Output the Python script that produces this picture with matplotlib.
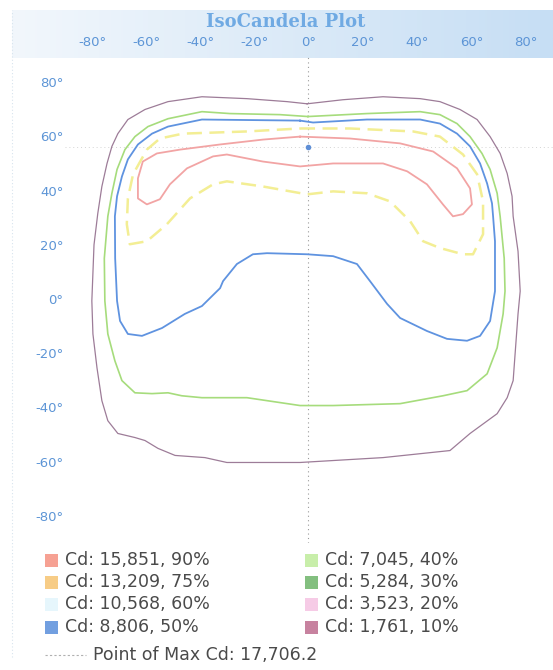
import matplotlib

matplotlib.use("Agg")

import matplotlib.pyplot as plt
import numpy as np
from matplotlib.patches import Rectangle

# Contour outlines in degrees (horizontal angle, vertical angle)
CD_10_X = [-0.7, -8.1, -22.9, -39.5, -52.0, -60.5, -66.8, -70.5, -72.7, -74.5, -76.4, -77.9,
           -79.3, -80.1, -79.7, -78.2, -76.4, -74.2, -70.5, -64.2, -60.5, -55.7, -49.4, -38.4,
           -30.3, -3.3, 27.3, 52.0, 59.4, 69.4, 73.1, 75.3, 77.1, 77.9, 77.1, 75.3, 74.9,
           73.1, 70.5, 66.8, 62.0, 55.7, 48.3, 41.0, 27.3, 12.5, -0.7]
CD_10_Y = [72.0, 72.8, 73.9, 74.6, 72.8, 69.9, 66.2, 61.0, 56.3, 50.0, 41.5, 31.6,
           20.0, -0.7, -12.9, -25.4, -37.5, -44.9, -49.6, -51.1, -52.2, -55.1, -57.7, -58.5,
           -60.3, -60.3, -58.5, -55.9, -49.6, -42.3, -36.4, -30.1, -5.5, 2.9, 17.6, 30.5, 37.9,
           46.3, 53.7, 59.9, 66.2, 69.9, 72.8, 73.9, 74.6, 73.5, 72.0]

CD_40_X = [-0.4, -10.7, -29.2, -39.5, -52.0, -59.4, -64.2, -67.9, -70.8, -72.7, -74.2, -75.5,
           -75.3, -74.2, -71.6, -69.0, -64.2, -57.9, -52.0, -46.9, -39.5, -22.9, -3.3, 8.9,
           33.6, 49.4, 58.3, 65.7, 69.4, 71.6, 72.3, 72.0, 70.5, 69.4, 66.8, 63.8, 59.4,
           54.6, 48.3, 41.0, 21.4, -0.4]
CD_40_Y = [67.3, 68.0, 68.4, 69.1, 66.5, 63.6, 59.9, 55.1, 47.8, 39.0, 30.5, 15.0,
           -0.7, -12.9, -22.8, -30.1, -34.6, -34.9, -34.6, -35.7, -36.4, -36.4, -39.3, -39.3,
           -38.6, -35.7, -33.8, -27.6, -18.0, -5.5, 2.9, 15.0, 30.5, 39.0, 47.8, 53.7, 59.9,
           64.7, 68.0, 69.1, 68.4, 67.3]

CD_50_X = [-3.3, 1.5, 21.4, 41.0, 48.3, 54.6, 59.4, 63.1, 65.7, 67.5, 67.9, 68.6, 68.6,
           66.8, 63.1, 58.3, 50.9, 43.5, 33.6, 28.8, 22.5, 17.7, 8.9, -0.7, -15.5, -20.7,
           -26.6, -31.7, -32.8, -39.5, -45.8, -54.2, -61.6, -66.8, -69.7, -70.8, -71.5,
           -71.6, -70.8, -69.0, -66.8, -63.1, -57.9, -52.0, -39.5, -3.3]
CD_50_Y = [65.8, 65.1, 66.2, 66.2, 64.7, 61.0, 56.3, 50.0, 42.6, 35.3, 30.5, 21.3, 2.9,
           -8.1, -13.6, -15.4, -14.7, -11.8, -7.0, -1.8, 6.6, 12.9, 15.8, 16.5, 16.9, 16.5,
           12.9, 6.6, 4.0, -2.6, -5.5, -10.7, -13.6, -12.9, -8.1, -0.7, 15.0,
           30.5, 37.9, 45.2, 51.5, 57.0, 61.0, 63.6, 66.2, 65.8]

CD_75_X = [-3.3, 15.1, 38.4, 48.3, 56.8, 62.0, 64.2, 64.2, 60.5, 56.8, 48.3, 42.1, 37.3,
           29.9, 21.4, 8.9, -0.7, -17.0, -30.3, -35.4, -43.9, -52.4, -59.8, -66.1, -67.2,
           -66.8, -64.9, -59.8, -55.0, -46.5, -22.9, -3.3]
CD_75_Y = [62.9, 62.9, 61.8, 59.9, 53.3, 46.0, 36.0, 23.9, 16.5, 16.5, 18.8, 21.3, 28.7,
           36.0, 39.0, 39.7, 38.6, 41.5, 43.4, 42.3, 37.1, 27.6, 21.3, 20.2, 27.6,
           37.1, 46.0, 55.1, 59.2, 61.0, 61.8, 62.9]

CD_90_X = [-3.3, 15.1, 33.6, 45.8, 54.6, 59.4, 60.1, 56.8, 53.1, 49.4, 43.5, 36.2, 27.3,
           8.9, -3.3, -17.0, -30.3, -35.4, -45.0, -51.3, -55.0, -59.8, -63.1, -63.1, -61.3,
           -56.1, -47.6, -32.8, -17.0, -3.3]
CD_90_Y = [59.9, 59.2, 57.4, 54.4, 48.2, 40.8, 34.9, 31.3, 30.5, 34.9, 42.3, 47.1, 50.0,
           50.0, 48.9, 50.7, 53.3, 52.6, 48.2, 42.3, 36.8, 34.9, 37.1, 44.5, 50.7,
           53.7, 55.1, 57.0, 58.8, 59.9]

MAX_POINT = (-0.4, 56.2)
MAX_CD = 17706.2

TICKS = [-80, -60, -40, -20, 0, 20, 40, 60, 80]

LEGEND_CD = [15851, 13209, 10568, 8806, 7045, 5284, 3523, 1761]
LEGEND_PCT = [90, 75, 60, 50, 40, 30, 20, 10]
LEGEND_COLORS = ["#f6a193", "#f7cc86", "#e6f6fc", "#729fe0",
                 "#c8eeaa", "#83bf7f", "#f6cbe6", "#c7829f"]

BLUE_TEXT = "#5d95d6"

W, H = 553, 670
fig = plt.figure(figsize=(W / 100, H / 100), dpi=100)
fig.patch.set_facecolor("white")

# light blue header band behind the title and top tick labels
band = fig.add_axes([12 / W, 1 - 58 / H, 1 - 12 / W, 48 / H])
grad = np.linspace(0, 1, 256)[None, :]
band.imshow(grad, aspect="auto", extent=(0, 1, 0, 1),
            cmap=matplotlib.colors.LinearSegmentedColormap.from_list("hdr", ["#f2f7fc", "#c6def4"]))
band.axis("off")

# faint frame line on the left
fig.add_artist(plt.Line2D([12 / W, 12 / W], [0.02, 1 - 10 / H], color="#d8e4ee",
                          linewidth=0.8, linestyle=(0, (1, 2))))

ax = fig.add_axes([65 / W, 1 - 543 / H, (W - 65) / W, 488 / H])
ax.patch.set_alpha(0)
ax.set_xlim(-90, 90)
ax.set_ylim(-90, 90)
for s in ax.spines.values():
    s.set_visible(False)
ax.xaxis.tick_top()
ax.set_xticks(TICKS)
ax.set_yticks(TICKS)
ax.set_xticklabels([f"{t}°" for t in TICKS])
ax.set_yticklabels([f"{t}°" for t in TICKS])
ax.tick_params(axis="both", length=0, labelsize=9.5, labelcolor=BLUE_TEXT)
ax.tick_params(axis="x", pad=4)
ax.tick_params(axis="y", pad=1)

# crosshair through the maximum
ax.axvline(MAX_POINT[0], color="#9a9a9a", linewidth=0.8, linestyle=(0, (1, 3)))
ax.axhline(MAX_POINT[1], color="#d4d4d4", linewidth=0.7, linestyle=(0, (1, 3)))

ax.plot(CD_10_X, CD_10_Y, color="#9d7c98", linewidth=0.9)
ax.plot(CD_40_X, CD_40_Y, color="#a6dc7c", linewidth=1.2)
ax.plot(CD_50_X, CD_50_Y, color="#5f93e0", linewidth=1.3)
ax.plot(CD_75_X, CD_75_Y, color="#f3ee94", linewidth=1.8, linestyle=(0, (6, 3)))
ax.plot(CD_90_X, CD_90_Y, color="#f2a4a4", linewidth=1.3)
ax.plot(*MAX_POINT, marker="o", markersize=4, color="#5f8fd6", markeredgewidth=0)

fig.text(286 / W, 1 - 22 / H, "IsoCandela Plot", ha="center", va="center",
         fontsize=13, fontweight="bold", family="DejaVu Serif", color="#70aae3")

# legend: two columns of swatches
row_y = [560, 582, 604, 627]
for i, (cd, pct, col) in enumerate(zip(LEGEND_CD, LEGEND_PCT, LEGEND_COLORS)):
    cx = 45 if i < 4 else 305
    cy = row_y[i % 4]
    fig.add_artist(Rectangle((cx / W, 1 - (cy + 6.5) / H), 13 / W, 13 / H,
                             facecolor=col, edgecolor="none"))
    fig.text((cx + 20) / W, 1 - cy / H, f"Cd: {cd:,}, {pct}%", ha="left", va="center",
             fontsize=12.5, color="#4a4a4a")

fig.add_artist(plt.Line2D([45 / W, 86 / W], [1 - 655 / H, 1 - 655 / H], color="#b0b0b0",
                          linewidth=0.8, linestyle=(0, (2, 2))))
fig.text(93 / W, 1 - 655 / H, f"Point of Max Cd: {MAX_CD:,.1f}", ha="left", va="center",
         fontsize=12.5, color="#4a4a4a")

fig.savefig("out.png", dpi=100)
